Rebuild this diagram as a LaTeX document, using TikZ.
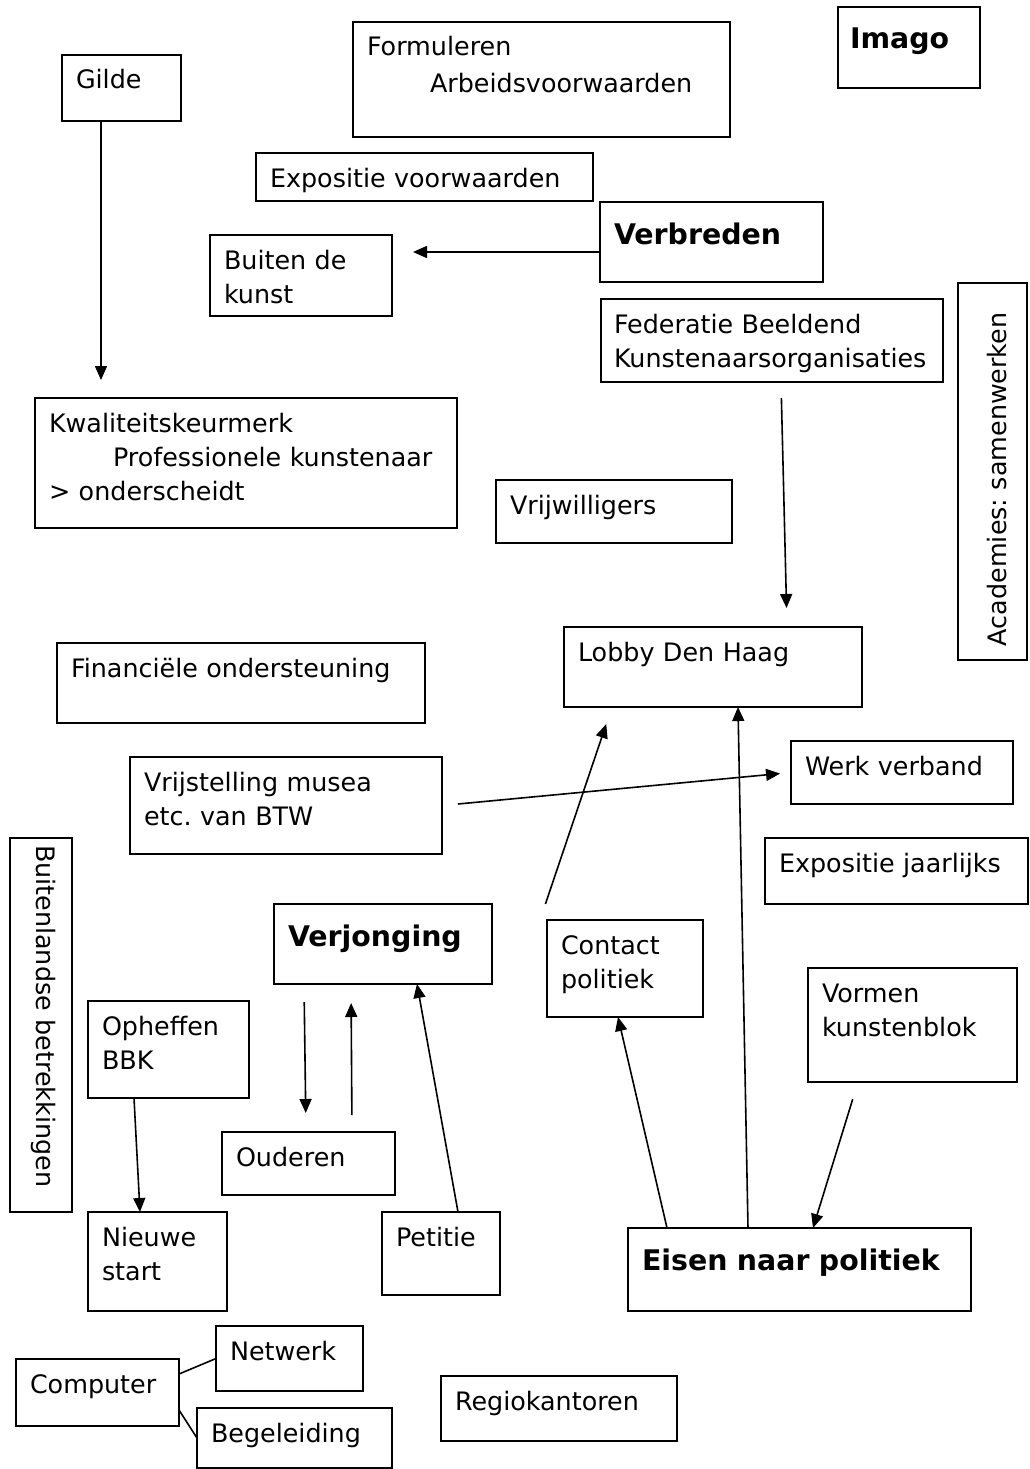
\documentclass[tikz,border=0pt]{standalone}
\usepackage{fontspec}
\setmainfont{DejaVu Sans}
\usetikzlibrary{arrows.meta}

\newcommand{\reg}{\fontsize{25.4}{34}\selectfont}
\newcommand{\heavy}{\fontsize{28.4}{36}\selectfont\bfseries}
\frenchspacing

\tikzset{
    box/.style={draw, line width=1.6pt, anchor=north west, inner xsep=14pt,
	inner ysep=0pt, outer sep=0pt, align=left, text height=34pt, font=\reg},
    bigbox/.style={box, text height=42pt, font=\heavy},
    link/.style={line width=1.6pt},
    >={Triangle[length=14pt,width=12pt]}
}

\begin{document}
\begin{tikzpicture}[x=1pt, y=-1pt]
    \useasboundingbox (0, 0) rectangle (1029, 1469);

    \path (62, 55) node [box, text width=91pt, text depth=32pt] (gilde) {Gilde};
    \path (353, 22) node [box, text width=349pt, text depth=81pt] (form)
	{Formuleren\\[3pt]\hspace*{63pt}Arbeidsvoorwaarden};
    \path (838, 7) node [bigbox, inner xsep=12pt, text width=118pt, text depth=39pt] (imago) {Imago};
    \path (256, 153) node [box, text width=309pt, text depth=14pt] (expv) {Expositie voorwaarden};
    \path (600, 202) node [bigbox, text width=195pt, text depth=38pt] (verb) {Verbreden};
    \path (210, 235) node [box, text width=154pt, text depth=47pt] (buiten) {Buiten de\\kunst};
    \path (601, 299) node [box, inner xsep=13pt, text width=316pt, text depth=49pt] (fed)
	{Federatie Beeldend\\Kunstenaarsorganisaties};
    \path (958, 660) node [box, rotate=90, text height=48pt, text width=349pt,
	text depth=21pt] (acad) {Academies: samenwerken};
    \path (35, 398) node [box, text width=394pt, text depth=96pt] (kwal)
	{Kwaliteitskeurmerk\\\hspace*{64pt}Professionele kunstenaar\\> onderscheidt};
    \path (496, 480) node [box, text width=208pt, text depth=29pt] (vrijw) {Vrijwilligers};
    \path (564, 627) node [box, text width=270pt, text depth=46pt] (lobby) {Lobby Den Haag};
    \path (57, 643) node [box, text width=340pt, text depth=46pt] (fin) {Financiële ondersteuning};
    \path (130, 757) node [box, text width=284pt, text depth=63pt] (vrijst)
	{Vrijstelling musea\\etc. van BTW};
    \path (791, 741) node [box, text width=194pt, text depth=29pt] (werk) {Werk verband};
    \path (765, 838) node [box, text width=235pt, text depth=32pt] (expj) {Expositie jaarlijks};
    \path (72, 838) node [box, rotate=-90, inner xsep=7pt, text height=36pt, text width=360pt,
	text depth=26pt] (buitl) {Buitenlandse betrekkingen};
    \path (274, 904) node [bigbox, text width=190pt, text depth=38pt] (verj) {Verjonging};
    \path (547, 920) node [box, text width=128pt, text depth=63pt] (contact) {Contact\\politiek};
    \path (808, 968) node [box, text width=181pt, text depth=80pt] (vormen) {Vormen\\kunstenblok};
    \path (88, 1001) node [box, text width=133pt, text depth=63pt] (oph) {Opheffen\\BBK};
    \path (222, 1132) node [box, text width=145pt, text depth=29pt] (ouderen) {Ouderen};
    \path (88, 1212) node [box, text width=111pt, text depth=65pt] (nieuwe) {Nieuwe\\start};
    \path (382, 1212) node [box, text width=90pt, text depth=49pt] (petitie) {Petitie};
    \path (628, 1228) node [bigbox, text width=315pt, text depth=41pt] (eisen) {Eisen naar politiek};
    \path (16, 1359) node [box, text width=135pt, text depth=33pt] (comp) {Computer};
    \path (216, 1326) node [box, text width=119pt, text depth=31pt] (netw) {Netwerk};
    \path (197, 1408) node [box, text width=167pt, text depth=26pt] (beg) {Begeleiding};
    \path (441, 1376) node [box, text width=208pt, text depth=31pt] (regio) {Regiokantoren};

    \draw [link, ->, shorten >=18pt] ([xshift=-20.5pt]gilde.south) -- ([xshift=-145pt]kwal.north);
    \draw [link, ->, shorten >=21pt] ([yshift=-10pt]verb.west) -- ([yshift=23.5pt]buiten.east);
    \draw [link, ->, shorten <=16pt, shorten >=19pt] ([xshift=9pt]fed.south)
	-- ([xshift=74pt]lobby.north);
    \draw [link, ->, shorten <=16pt, shorten >=11pt] (vrijst.east) -- (werk.west);
    \draw [link, ->, shorten <=17pt, shorten >=18pt] ([xshift=-7pt]contact.north west)
	-- ([xshift=48pt]lobby.south west);
    \draw [link, ->] ([xshift=-51.5pt]eisen.north) -- ([xshift=25pt]lobby.south);
    \draw [link, ->, shorten <=18pt] ([xshift=-54.5pt]vormen.south) -- ([xshift=13.5pt]eisen.north);
    \draw [link, ->] ([xshift=-132.5pt]eisen.north) -- ([xshift=-7pt]contact.south);
    \draw [link, ->, shorten <=18pt, shorten >=19pt] ([xshift=-79pt]verj.south)
	-- ([xshift=-2.5pt]ouderen.north);
    \draw [link, ->, shorten <=17pt, shorten >=19pt] ([xshift=43.5pt]ouderen.north)
	-- ([xshift=-32pt]verj.south);
    \draw [link, ->] ([xshift=17pt]petitie.north) -- ([xshift=34pt]verj.south);
    \draw [link, ->] ([xshift=-34.5pt]oph.south) -- ([xshift=-17.5pt]nieuwe.north);
    \draw [link] ([yshift=18.5pt]comp.east) -- (netw.west);
    \draw [link] ([yshift=-17.5pt]comp.east) -- (beg.west);
\end{tikzpicture}
\end{document}
